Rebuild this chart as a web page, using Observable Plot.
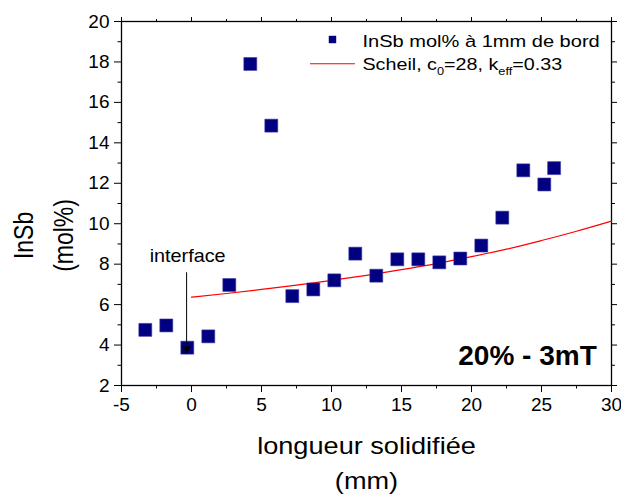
<!DOCTYPE html>
<html><head><meta charset="utf-8">
<script src="https://cdn.jsdelivr.net/npm/d3@7"></script>
<script src="https://cdn.jsdelivr.net/npm/@observablehq/plot@0.6"></script>
<style>body{margin:0;background:#fff}</style>
</head><body><div id="chart"></div>
<script>
// measured points: position (mm) and InSb content (mol%)
const posX = [-3.3, -1.8, -0.3, 1.2, 2.7, 4.2, 5.7, 7.2, 8.7, 10.2, 11.7, 13.2, 14.7, 16.2, 17.7, 19.2, 20.7, 22.2, 23.7, 25.2, 25.9];
const inSb = [4.75, 4.97, 3.87, 4.43, 6.97, 17.9, 14.85, 6.42, 6.75, 7.2, 8.52, 7.43, 8.24, 8.24, 8.09, 8.28, 8.92, 10.3, 12.64, 11.94, 12.75];
// Scheil curve
const scheilX = [0, 2.5, 5, 7.5, 10, 12.5, 15, 17.5, 20, 22.5, 25, 27.5, 30];
const scheilY = [6.37, 6.55, 6.75, 6.96, 7.2, 7.45, 7.73, 8.03, 8.37, 8.74, 9.17, 9.63, 10.13];
// axes
const xTicks = [-5, 0, 5, 10, 15, 20, 25, 30];
const xMinor = [-2.5, 2.5, 7.5, 12.5, 17.5, 22.5, 27.5];
const yTicks = [2, 4, 6, 8, 10, 12, 14, 16, 18, 20];
const yMinor = [3, 5, 7, 9, 11, 13, 15, 17, 19];
const xTitle = "longueur solidifiée\n(mm)";
const yTitle = "InSb\n(mol%)";
const legendLabels = ["InSb mol% à 1mm de bord", "Scheil, c0=28, keff=0.33"];
const annotation = "interface";
const condition = "20% - 3mT";

const points = posX.map((x, i) => ({x, y: inSb[i]}));
const scheil = scheilX.map((x, i) => ({x, y: scheilY[i]}));

const navy = "#000080";
const fmt = d => String(d);
const blank = () => "";

const chart = Plot.plot({
  width: 621,
  height: 495,
  marginLeft: 121,
  marginRight: 10,
  marginTop: 21,
  marginBottom: 110,
  style: {fontFamily: "'Liberation Sans', Arial, sans-serif", background: "white", color: "black"},
  x: {domain: [-5, 30]},
  y: {domain: [2, 20]},
  marks: [
    Plot.axisX({anchor: "bottom", ticks: xTicks, tickSize: 7, tickPadding: 5, tickFormat: fmt, fontSize: 19, label: null}),
    Plot.axisX({anchor: "bottom", ticks: xMinor, tickSize: 3.5, tickFormat: blank, label: null}),
    Plot.axisX({anchor: "top", ticks: xTicks, tickSize: 5, tickFormat: blank, label: null}),
    Plot.axisX({anchor: "top", ticks: xMinor, tickSize: 3, tickFormat: blank, label: null}),
    Plot.axisY({anchor: "left", ticks: yTicks, tickSize: 7, tickPadding: 5, tickFormat: fmt, fontSize: 19, label: null}),
    Plot.axisY({anchor: "left", ticks: yMinor, tickSize: 3.5, tickFormat: blank, label: null}),
    Plot.axisY({anchor: "right", ticks: yTicks, tickSize: 5, tickFormat: blank, label: null}),
    Plot.axisY({anchor: "right", ticks: yMinor, tickSize: 3, tickFormat: blank, label: null}),
    Plot.frame({stroke: "black", strokeWidth: 1.3}),
    Plot.line(scheil, {x: "x", y: "y", stroke: "#ff0000", strokeWidth: 1.2, curve: "monotone-x"}),
    Plot.dot(points, {x: "x", y: "y", symbol: "square", r: 7.3, fill: navy, stroke: "#3a3aa8", strokeWidth: 0.6}),
    // interface annotation
    Plot.link([{x1: -0.35, y1: 7.6, x2: -0.35, y2: 4.05}], {x1: "x1", y1: "y1", x2: "x2", y2: "y2", stroke: "black", strokeWidth: 1}),
    Plot.dot([{x: -0.35, y: 3.82}], {x: "x", y: "y", symbol: "triangle", rotate: 180, r: 3.2, fill: "black"}),
    Plot.text([annotation], {x: () => -0.28, y: () => 8.13, text: d => d, lineAnchor: "bottom", textAnchor: "middle", fontSize: 18, className: "st110"}),
    Plot.text([condition], {x: () => 28.95, y: () => 2.99, text: d => d, lineAnchor: "bottom", textAnchor: "end", fontSize: 28, fontWeight: "bold"}),
    // legend
    Plot.dot([{x: 10.07, y: 19.11}], {x: "x", y: "y", symbol: "square", r: 4.2, fill: navy}),
    Plot.text([legendLabels[0]], {x: () => 12.21, y: () => 18.73, text: d => d, lineAnchor: "bottom", textAnchor: "start", fontSize: 17, className: "st118"}),
    Plot.ruleY([17.91], {x1: 8.5, x2: 11.71, stroke: "#ff0000", strokeWidth: 1.2}),
    Plot.text([legendLabels[1]], {x: () => 12.21, y: () => 17.58, text: d => d, lineAnchor: "bottom", textAnchor: "start", fontSize: 17, className: "leg2"}),
    // axis titles
    Plot.text([xTitle], {frameAnchor: "bottom", text: d => d, lineAnchor: "top", dy: 44, fontSize: 23, lineHeight: 1.52, className: "st118"}),
    Plot.text([yTitle], {x: () => -13.36, y: () => 9.42, text: d => d, rotate: -90, lineAnchor: "top", textAnchor: "middle", fontSize: 23, lineHeight: 1.45, className: "st118v"})
  ]
});
document.getElementById("chart").append(chart);

// legend subscripts
(function () {
  const t = chart.querySelector("g.leg2 text");
  if (!t) return;
  const parts = [["Scheil, c", 0], ["0", 1], ["=28, k", 0], ["eff", 1], ["=0.33", 0]];
  t.textContent = "";
  let shifted = false;
  for (const [s, sub] of parts) {
    const ts = document.createElementNS("http://www.w3.org/2000/svg", "tspan");
    ts.textContent = s;
    if (sub) { ts.setAttribute("font-size", "11"); ts.setAttribute("dy", "5"); shifted = true; }
    else if (shifted) { ts.setAttribute("dy", "-5"); shifted = false; }
    t.appendChild(ts);
  }
})();

// horizontal stretch to match the reference's wide text rendering
function stretch(cls, sx, sy) {
  chart.querySelectorAll(`g.${cls} text`).forEach(t => {
    let tr = t.getAttribute("transform") || "";
    const x = t.getAttribute("x");
    if (x != null && !isNaN(+x)) { tr += ` translate(${x},0)`; t.removeAttribute("x"); }
    const y = t.getAttribute("y");
    if (y != null && !isNaN(+y)) { tr += ` translate(0,${y})`; t.removeAttribute("y"); }
    t.setAttribute("transform", `${tr} scale(${sx},${sy})`);
  });
}
stretch("st118", 1.18, 1);
stretch("leg2", 1.16, 1);
stretch("st110", 1.1, 1);
stretch("st118v", 1, 1.2);
</script>
</body></html>
